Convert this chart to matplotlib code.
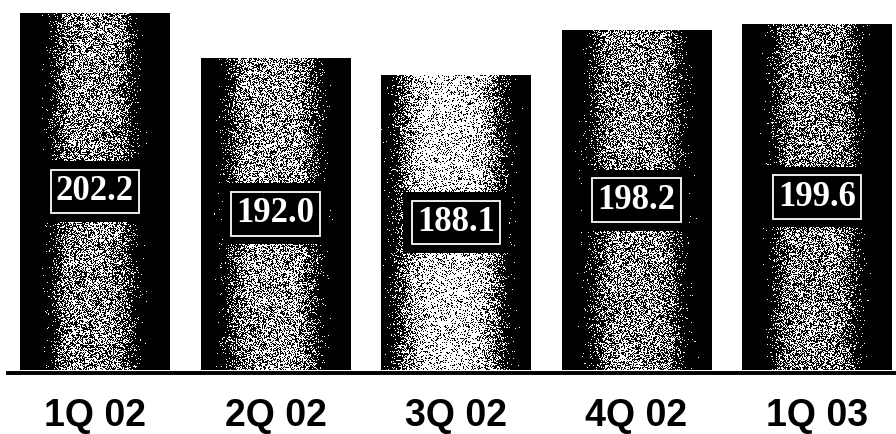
import numpy as np
import matplotlib.pyplot as plt

# quarterly values
quarters = ["1Q 02", "2Q 02", "3Q 02", "4Q 02", "1Q 03"]
values = [202.2, 192.0, 188.1, 198.2, 199.6]

base = 121.0          # value at the foot of the bars (axis is not zero based)
ymin, ymax = 119.64, 205.09

# look of the halftone texture in each bar: centre, half width, brightness
tex_centre = [0.49, 0.48, 0.46, 0.50, 0.49]
tex_width = [0.25, 0.28, 0.33, 0.28, 0.26]
tex_peak = [0.52, 0.58, 0.80, 0.52, 0.50]

fig = plt.figure(figsize=(8.96, 4.34), dpi=100)
ax = fig.add_axes([0, 58 / 434, 1, 376 / 434])

x = np.arange(len(quarters))
w = 0.83
bars = ax.bar(x, np.array(values) - base, bottom=base, width=w,
              color="black", edgecolor="none", zorder=2)

rng = np.random.default_rng(3)
for i, b in enumerate(bars):
    ny = int((values[i] - base) * 4.4)
    nx = 150
    u = np.linspace(0, 1, nx)
    prof = tex_peak[i] * np.exp(-np.abs((u - tex_centre[i]) / tex_width[i]) ** 5)
    img = (rng.random((ny, nx)) < prof[None, :]).astype(float)
    im = ax.imshow(img, cmap="gray", vmin=0, vmax=1, interpolation="nearest",
                   extent=(x[i] - w / 2, x[i] + w / 2, base, values[i]),
                   aspect="auto", zorder=3)
    im.set_clip_path(b)

    mid = (values[i] + base) / 2
    lab = "{:.1f}".format(values[i])
    # black margin round the label box
    ax.text(x[i], mid, lab, ha="center", va="center", color="black",
            fontsize=25, fontweight="bold", family="Liberation Serif", zorder=4,
            bbox=dict(boxstyle="square,pad=0.4", fc="black", ec="none"))
    ax.text(x[i], mid, lab, ha="center", va="center",
            color="white", fontsize=25, fontweight="bold",
            family="Liberation Serif", zorder=5,
            bbox=dict(boxstyle="square,pad=0.15", fc="black", ec="white", lw=1.3))

ax.axhline(120.4, xmin=0.009, xmax=1, color="black", lw=2.8, zorder=4)

ax.set_xlim(-95 / 180.5, (896 - 95) / 180.5)
ax.set_ylim(ymin, ymax)
ax.set_xticks(x)
ax.set_xticklabels(quarters, fontsize=27, fontweight="bold",
                   family="Liberation Sans")
ax.tick_params(axis="x", length=0, pad=16)
ax.set_yticks([])
for s in ax.spines.values():
    s.set_visible(False)

fig.savefig("out.png", dpi=100)
